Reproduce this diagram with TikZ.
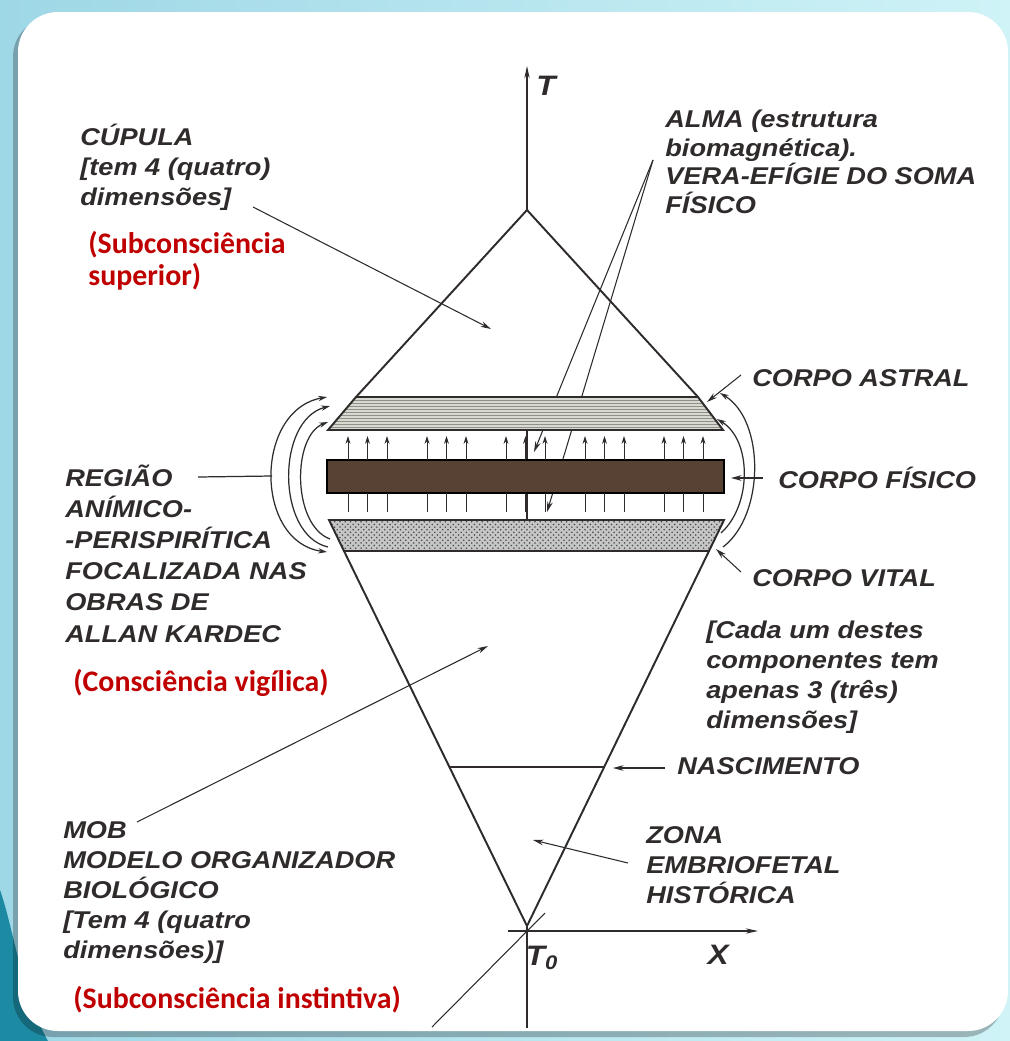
\documentclass[tikz,border=0pt]{standalone}
\usepackage{fontspec}
\usetikzlibrary{arrows.meta,patterns}
\newfontfamily\lblfont[FakeStretch=1.12]{Liberation Sans}
\newfontfamily\redfont{Carlito}
\definecolor{ink}{HTML}{2E2B2A}
\definecolor{redtxt}{HTML}{C00000}
\definecolor{skyA}{HTML}{9ED7E6}
\definecolor{skyB}{HTML}{CFF3F7}
\definecolor{swoosh}{HTML}{1D8AA3}
\definecolor{brownbar}{HTML}{574233}
\definecolor{astralgr}{HTML}{D8D9D0}
\definecolor{stripe}{HTML}{8F9087}

\tikzset{
  lbl/.style={font=\lblfont\bfseries\itshape\fontsize{13.8}{17}\selectfont,
    text=ink, align=left, anchor=base west, inner sep=0pt},
  axlbl/.style={font=\lblfont\bfseries\itshape\fontsize{16}{18}\selectfont,
    text=ink, anchor=center, inner sep=0pt},
  redlbl/.style={font=\redfont\bfseries\fontsize{17}{18.1}\selectfont,
    text=redtxt, align=left, anchor=base west, inner sep=0pt},
  lead/.style={draw=ink, line width=0.6pt, -{Stealth[length=6pt,width=3.2pt]}},
  cone/.style={draw=ink, line width=1.1pt, line join=miter},
  axis/.style={draw=ink, line width=0.6pt},
  tick/.style={draw=ink, line width=0.5pt},
  loop/.style={draw=ink, line width=0.7pt}
}

\begin{document}
\begin{tikzpicture}[x=0.02cm,y=-0.02cm]
  \useasboundingbox (0,0) rectangle (1010,1041);
  % slide background
  \shade[left color=skyA, right color=skyB] (0,0) rectangle (1010,1041);
  \fill[swoosh] (0,890) .. controls (14,930) and (22,995) .. (48,1041) -- (0,1041) -- cycle;
  \fill[black, opacity=0.25, rounded corners=0.8cm] (13,17) rectangle (1004,1037);
  \fill[white, rounded corners=0.8cm] (18,12) rectangle (1008,1031);

  % axes
  \coordinate (apex) at (527,210);
  \coordinate (origin) at (527,926);
  \draw[axis, -{Stealth[length=7pt,width=3pt]}] (apex) -- (527,66);
  \draw[axis] (527,430) -- (527,520);
  \draw[axis] (origin) -- (527,1028);
  \draw[axis, -{Stealth[length=7pt,width=3pt]}] (508,931) -- (758,931);
  \draw[axis] (432,1027) -- (545,913);

  % ALMA leader lines (behind the bands)
  \coordinate (almafoot) at (653,160);
  \draw[lead] (almafoot) -- (534,452);
  \draw[lead] (almafoot) -- (547,512);

  % upper cone (cupula)
  \draw[cone] (356,397) -- (apex) -- (698,397);
  % corpo astral
  \begin{scope}
    \clip (356,397) -- (698,397) -- (723,430) -- (328,430) -- cycle;
    \fill[astralgr] (320,395) rectangle (730,432);
    \foreach \s in {400,403,...,428}
      \draw[stripe, line width=0.4pt] (320,\s) -- (730,\s);
  \end{scope}
  \draw[cone] (356,397) -- (698,397) -- (723,430) -- (328,430) -- cycle;

  % corpo fisico
  \fill[brownbar, draw=black, line width=0.8pt] (327,460) rectangle (724,493);

  % little arrows above and lines below
  \foreach \g in {0,...,4} {
    \foreach \d in {0,19.5,39} {
      \draw[tick, -{Stealth[length=4.5pt,width=2.8pt]}] ({348+79*\g+\d},460) -- ++(0,-24);
      \draw[tick] ({348+79*\g+\d},493) -- ++(0,19);
    }
  }

  % corpo vital
  \fill[gray!45] (329,520) -- (724,520) -- (709,551) -- (344,551) -- cycle;
  \fill[pattern=crosshatch dots, pattern color=black!70]
    (329,520) -- (724,520) -- (709,551) -- (344,551) -- cycle;
  \draw[cone] (329,520) -- (724,520) -- (709,551) -- (344,551) -- cycle;

  % lower cone (MOB)
  \draw[cone] (344,551) -- (origin) -- (709,551);
  \draw[axis] (449,767) -- (604,767);

  % loops round the bands
  \coordinate (regj) at (272,476);
  \draw[loop, {Stealth[length=5pt,width=3pt]}-{Stealth[length=5pt,width=3pt]}]
    (327,397) .. controls (254,410) and (254,542) .. (327,552);
  \draw[loop, -{Stealth[length=5pt,width=3pt]}]
    (328,547) .. controls (276,535) and (276,420) .. (330,406);
  \draw[loop, -{Stealth[length=5pt,width=3pt]}]
    (330,539) .. controls (292,525) and (292,436) .. (328,422);
  \draw[loop, -{Stealth[length=5pt,width=3pt]}]
    (723,547) .. controls (765,515) and (765,420) .. (720,393);
  \draw[loop, -{Stealth[length=5pt,width=3pt]}]
    (721,533) .. controls (752,505) and (752,440) .. (717,419);

  % labels (base = last line)
  \node[axlbl] (tlab) at (546,86) {T};
  \node[axlbl] (t0lab) at (542,958) {T\textsubscript{0}};
  \node[axlbl] (xlab) at (718,955) {X};

  \node[lbl] (cupula) at (80,205) {CÚPULA\\{}[tem 4 (quatro)\\dimensões]};
  \node[redlbl] (subsup) at (88,285) {(Subconsciência\\superior)};
  \node[lbl, font=\lblfont\bfseries\itshape\fontsize{13.8}{16.2}\selectfont] (alma) at (665,213)
    {ALMA (estrutura\\biomagnética).\\VERA-EFÍGIE DO SOMA\\FÍSICO};
  \node[lbl] (astral) at (752,386) {CORPO ASTRAL};
  \node[lbl] (fisico) at (778,488) {CORPO FÍSICO};
  \node[lbl] (vital) at (752,586) {CORPO VITAL};
  \node[lbl] (cada) at (706,728)
    {[Cada um destes\\componentes tem\\apenas 3 (três)\\dimensões]};
  \node[lbl] (nasc) at (677,774) {NASCIMENTO};
  \node[lbl] (zona) at (646,903) {ZONA\\EMBRIOFETAL\\HISTÓRICA};
  \node[lbl, font=\lblfont\bfseries\itshape\fontsize{13.8}{17.7}\selectfont] (regiao) at (65,642)
    {REGIÃO\\ANÍMICO-\\-PERISPIRÍTICA\\FOCALIZADA NAS\\OBRAS DE\\ALLAN KARDEC};
  \node[redlbl] (vigil) at (73,691) {(Consciência vigílica)};
  \node[lbl] (mob) at (63,958)
    {MOB\\MODELO ORGANIZADOR\\BIOLÓGICO\\{}[Tem 4 (quatro\\dimensões)]};
  \node[redlbl] (subinst) at (73,1008) {(Subconsciência instintiva)};

  % leaders from the labels
  \coordinate (cupulaend) at (253,207);
  \coordinate (cupulatip) at (491,329);
  \draw[lead] (cupulaend) -- (cupulatip);
  \coordinate (astralend) at (741,375);
  \coordinate (astraltip) at (707,402);
  \draw[lead] (astralend) -- (astraltip);
  \coordinate (fisicoend) at (763,478);
  \coordinate (fisicotip) at (731,478);
  \draw[lead] (fisicoend) -- (fisicotip);
  \coordinate (vitalend) at (741,572);
  \coordinate (vitaltip) at (716,549);
  \draw[lead] (vitalend) -- (vitaltip);
  \coordinate (nascend) at (665,768);
  \coordinate (nasctip) at (613,768);
  \draw[lead] (nascend) -- (nasctip);
  \coordinate (zonaend) at (628,863);
  \coordinate (zonatip) at (533,840);
  \draw[lead] (zonaend) -- (zonatip);
  \coordinate (mobend) at (137,822);
  \coordinate (mobtip) at (488,646);
  \draw[lead] (mobend) -- (mobtip);
  \coordinate (regend) at (198,477);
  \draw[loop] (regend) -- (regj);
\end{tikzpicture}
\end{document}
